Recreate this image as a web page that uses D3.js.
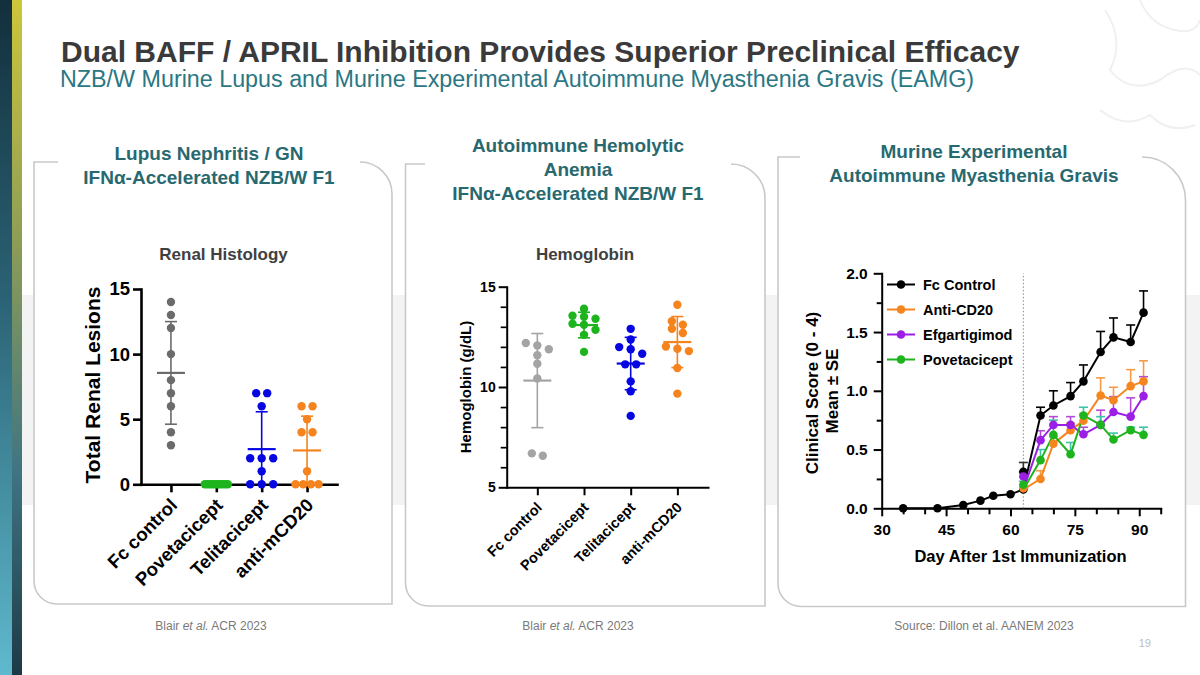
<!DOCTYPE html>
<html><head><meta charset="utf-8">
<script src="https://cdn.jsdelivr.net/npm/d3@7"></script>
<style>
html,body{margin:0;padding:0;background:#fff;}
svg{display:block;font-family:"Liberation Sans",Arial,sans-serif;}
</style></head><body>
<script>
// ---------- DATA ----------
const renalGroups = ["Fc control","Povetacicept","Telitacicept","anti-mCD20"];
const renalFc   = [14,13,12,10,8,7,6,4,3];
const renalPove = [0,0,0,0,0,0,0,0,0,0];
const renalTeli = [7,7,6,2,2,2,1,0,0,0];
const renalAnti = [6,6,5,4,4,1,0,0,0,0];
const renalTicks = [0,5,10,15];

const hgbGroups = ["Fc control","Povetacicept","Telitacicept","anti-mCD20"];
const hgbFc   = [12.19,12.07,11.88,11.58,11.16,10.42,6.69,6.57];
const hgbPove = [13.9,13.55,13.5,13.4,13.15,13.1,12.85,12.6,11.75];
const hgbTeli = [12.9,12.37,11.99,11.88,11.66,11.13,11.13,10.28,9.79,8.56];
const hgbAnti = [14.1,13.28,13.1,12.9,12.69,12.02,11.91,11.79,10.95,9.67];
const hgbTicks = [5,10,15];
const hgbMinor = [6,7,8,9,11,12,13,14];

const eamgSeries = ["Fc Control","Anti-CD20","Efgartigimod","Povetacicept"];
const daysFc = [35,43,49,53,56,60,63,67,70,74,77,81,84,88,91];
const scoreFc = [0,0,0.028,0.065,0.107,0.119,0.16,0.79,0.875,0.955,1.08,1.33,1.455,1.415,1.665];
const seFc    = [0,0,0,0,0,0,0,0.07,0.125,0.115,0.14,0.175,0.165,0.145,0.185];
const daysTx = [63,67,70,74,77,81,84,88,91];
const scoreAnti = [0.17,0.25,0.55,0.665,0.745,0.96,0.92,1.04,1.08];
const seAnti    = [0,0.07,0.06,0.06,0.06,0.15,0.11,0.14,0.175];
const scoreEfg  = [0.27,0.58,0.71,0.71,0.63,0.71,0.82,0.78,0.955];
const seEfg     = [0.04,0.08,0.07,0.07,0.06,0.125,0.13,0.16,0.165];
const scorePove = [0.2,0.41,0.625,0.46,0.79,0.71,0.585,0.665,0.625];
const sePove    = [0.03,0.09,0.125,0.1,0.07,0.07,0.055,0.025,0.065];
const fcGroupDay63 = [63], fcGroupScore63 = [0.31], fcGroupSe63 = [0.08];
const eamgXTicks = [30,45,60,75,90];
const eamgXMinor = [35,40,50,55,65,70,80,85,95];
const eamgYTicks = [0,0.5,1,1.5,2];
const eamgYMinor = [0.25,0.75,1.25,1.75];
const treatmentStartDay = 63;

// ---------- STYLE ----------
const FONT = '"Liberation Sans",Arial,sans-serif';
const renalColors = ["#6b6b6b","#1eb41e","#0606e2","#f5841f"];
const hgbColors   = ["#a4a4a4","#1eb41e","#0606e2","#f5841f"];
const eamgColors  = ["#000000","#f5861f","#9c1fe6","#1eb41e"];
const eamgErrColors = ["#000000","#f59a45","#b44ad8","#3ec4a4"];

const W = 1200, H = 675;
const svg = d3.select("body").append("svg").attr("width", W).attr("height", H)
  .attr("font-family", FONT);

// ---------- BACKGROUND ----------
const defs = svg.append("defs");
const gA = defs.append("linearGradient").attr("id","stripA").attr("x1",0).attr("y1",0).attr("x2",0).attr("y2",1);
[["0%","#132f3c"],["45%","#2b6476"],["100%","#5fb9cd"]].forEach(s=>gA.append("stop").attr("offset",s[0]).attr("stop-color",s[1]));
const gB = defs.append("linearGradient").attr("id","stripB").attr("x1",0).attr("y1",0).attr("x2",0).attr("y2",1);
[["0%","#cdc63a"],["35%","#8f9e55"],["70%","#3f7482"],["100%","#1c3a46"]].forEach(s=>gB.append("stop").attr("offset",s[0]).attr("stop-color",s[1]));

svg.append("rect").attr("x",22).attr("y",295).attr("width",W-22).attr("height",210).attr("fill","#f3f3f3");
svg.append("rect").attr("x",0).attr("y",0).attr("width",12).attr("height",H).attr("fill","url(#stripA)");
svg.append("rect").attr("x",12).attr("y",0).attr("width",10).attr("height",H).attr("fill","url(#stripB)");

// faint decoration top-right
const deco = svg.append("g").attr("fill","none").attr("stroke","#f0f0f0").attr("stroke-width",2);
deco.append("path").attr("d","M1105,10 Q1125,40 1110,70 Q1130,95 1160,80 Q1185,60 1200,75");
deco.append("path").attr("d","M1140,0 Q1150,25 1175,30 Q1195,35 1200,20");
deco.append("path").attr("d","M1100,110 Q1125,130 1150,115 Q1170,135 1195,125");

// ---------- TITLES ----------
svg.append("text").attr("x",61).attr("y",62).attr("font-size",30).attr("font-weight","bold")
  .attr("fill","#3a3a3a").text("Dual BAFF / APRIL Inhibition Provides Superior Preclinical Efficacy");
svg.append("text").attr("x",60).attr("y",87).attr("font-size",23.3).attr("fill","#2b7783")
  .text("NZB/W Murine Lupus and Murine Experimental Autoimmune Myasthenia Gravis (EAMG)");

// ---------- CARDS ----------
function cardPath(x0,y0,x1,y1,rTR,rBL){
  return `M${x0},${y0} H${x1-rTR} A${rTR},${rTR} 0 0 1 ${x1},${y0+rTR} V${y1} H${x0+rBL} A${rBL},${rBL} 0 0 1 ${x0},${y1-rBL} Z`;
}
const cards = [
  {x0:34,y0:162,x1:392,y1:604,rTR:32,rBL:23,g0:58,g1:360, cx:209, lines:["Lupus Nephritis / GN","IFNα-Accelerated NZB/W F1"], by:160},
  {x0:405.5,y0:164,x1:765,y1:606,rTR:34,rBL:23,g0:425,g1:731, cx:578, lines:["Autoimmune Hemolytic","Anemia","IFNα-Accelerated NZB/W F1"], by:152},
  {x0:778,y0:157,x1:1185.5,y1:606.5,rTR:43,rBL:23,g0:800,g1:1142, cx:974, lines:["Murine Experimental","Autoimmune Myasthenia Gravis"], by:158}
];
cards.forEach(c=>{
  svg.append("path").attr("d",cardPath(c.x0,c.y0,c.x1,c.y1,c.rTR,c.rBL))
    .attr("fill","#fff").attr("stroke","#c9c9c9").attr("stroke-width",1.6);
  svg.append("rect").attr("x",c.g0).attr("y",c.y0-4).attr("width",c.g1-c.g0).attr("height",8).attr("fill","#fff");
  c.lines.forEach((l,i)=>{
    svg.append("text").attr("x",c.cx).attr("y",c.by+i*24).attr("text-anchor","middle")
      .attr("font-size",19).attr("font-weight","bold").attr("fill","#28696f").text(l);
  });
});

// ---------- footers ----------
function footer(cx, parts){
  const t = svg.append("text").attr("x",cx).attr("y",630).attr("text-anchor","middle")
    .attr("font-size",12).attr("fill","#7a7a7a");
  parts.forEach(p=>t.append("tspan").attr("font-style",p[1]?"italic":null).text(p[0]));
}
footer(211,[["Blair ",0],["et al.",1],[" ACR 2023",0]]);
footer(578,[["Blair ",0],["et al.",1],[" ACR 2023",0]]);
footer(984,[["Source: Dillon et al. AANEM 2023",0]]);
svg.append("text").attr("x",1151).attr("y",647).attr("text-anchor","end").attr("font-size",11)
  .attr("fill","#bdbdbd").text("19");

// ---------- helpers ----------
function swarm(values, y, binH){
  const pts = values.map(v=>({v})).sort((a,b)=>b.v-a.v);
  const rows=[]; let cur=null;
  pts.forEach(p=>{
    const py=y(p.v);
    if(cur && py-cur.y0 < binH) cur.pts.push(p); else {cur={y0:py,pts:[p]}; rows.push(cur);}
  });
  rows.forEach(r=>{
    const n=r.pts.length; const sp = n===1?0:(n===2?11:23/(n-1));
    r.pts.forEach((p,k)=>p.dx=(k-(n-1)/2)*sp);
  });
  return pts;
}
function styleAxis(sel, w, fs){
  sel.attr("font-family",FONT);
  sel.select(".domain").attr("stroke","#000").attr("stroke-width",w).attr("stroke-linecap","square");
  sel.selectAll(".tick line").attr("stroke","#000").attr("stroke-width",w);
  sel.selectAll(".tick text").attr("font-size",fs).attr("font-weight","bold").attr("fill","#000");
}

function dotPlot(o){
  const g = svg.append("g");
  const x = d3.scalePoint().domain(o.groups).range(o.xRange).padding(o.pad);
  const y = d3.scaleLinear().domain(o.domain).range(o.yRange);
  if(o.minor){
    const m = g.append("g").attr("transform",`translate(${o.xRange[0]},0)`)
      .call(d3.axisLeft(y).tickValues(o.minor).tickSize(o.minorLen).tickFormat(""));
    m.select(".domain").remove();
    m.selectAll("line").attr("stroke","#000").attr("stroke-width",o.axisW*0.85);
  }
  const ya = g.append("g").attr("transform",`translate(${o.xRange[0]},0)`)
    .call(d3.axisLeft(y).tickValues(o.ticks).tickSize(o.tickLen).tickSizeOuter(0).tickPadding(o.tickPad));
  styleAxis(ya,o.axisW,o.tickFs);
  const xa = g.append("g").attr("transform",`translate(0,${o.yRange[0]})`)
    .call(d3.axisBottom(x).tickSize(o.tickLen).tickSizeOuter(0));
  styleAxis(xa,o.axisW,o.xFs);
  xa.selectAll(".tick text").attr("x",0).attr("y",0).attr("dy",0).attr("text-anchor","end")
    .attr("transform",`translate(${o.lblDx},${o.lblDy}) rotate(-45)`);
  o.series.forEach((vals,i)=>{
    const cx = x(o.groups[i]);
    swarm(vals,y,o.binH).forEach(p=>{
      g.append("circle").attr("cx",cx+p.dx).attr("cy",y(p.v)).attr("r",o.r).attr("fill",o.colors[i]);
    });
  });
  o.series.forEach((vals,i)=>{
    const cx = x(o.groups[i]); const m = d3.mean(vals); const sd = d3.deviation(vals)||0;
    const lo = Math.max(o.domain[0], m-sd), hi = m+sd;
    const c = o.colors[i];
    g.append("line").attr("x1",cx).attr("x2",cx).attr("y1",y(lo)).attr("y2",y(hi)).attr("stroke",c).attr("stroke-width",1.6);
    [lo,hi].forEach(v=>{ if(v>o.domain[0]) g.append("line").attr("x1",cx-6).attr("x2",cx+6).attr("y1",y(v)).attr("y2",y(v)).attr("stroke",c).attr("stroke-width",1.6); });
    g.append("line").attr("x1",cx-14).attr("x2",cx+14).attr("y1",y(m)).attr("y2",y(m)).attr("stroke",c).attr("stroke-width",2.2);
  });
  g.append("text").attr("x",o.titleX).attr("y",260).attr("text-anchor","middle").attr("font-size",17)
    .attr("font-weight","bold").attr("fill","#404040").text(o.title);
  g.append("text").attr("transform",`translate(${o.ylx},${o.yly}) rotate(-90)`).attr("text-anchor","middle")
    .attr("font-size",o.ylFs).attr("font-weight","bold").attr("fill","#000").text(o.ylabel);
}

dotPlot({groups:renalGroups, series:[renalFc,renalPove,renalTeli,renalAnti], colors:renalColors,
  xRange:[141,337], yRange:[484.3,289], domain:[0,15], pad:0.66, ticks:renalTicks,
  tickLen:8, tickPad:3, axisW:2.6, tickFs:18.5, xFs:18.5, lblDx:7, lblDy:22, r:4.2, binH:7,
  title:"Renal Histology", titleX:223.5, ylabel:"Total Renal Lesions", ylx:99.5, yly:385, ylFs:21});

dotPlot({groups:hgbGroups, series:[hgbFc,hgbPove,hgbTeli,hgbAnti], colors:hgbColors,
  xRange:[506.7,708], yRange:[487.3,286.7], domain:[5,15], pad:0.656, ticks:hgbTicks, minor:hgbMinor, minorLen:6,
  tickLen:8, tickPad:3, axisW:2, tickFs:14, xFs:14.5, lblDx:5, lblDy:21, r:4.2, binH:7,
  title:"Hemoglobin", titleX:585, ylabel:"Hemoglobin (g/dL)", ylx:471, yly:387, ylFs:15});

// ---------- EAMG line chart ----------
(function(){
  const g = svg.append("g");
  const x = d3.scaleLinear().domain([30,95]).range([881.7,1160.7]);
  const y = d3.scaleLinear().domain([0,2]).range([508.3,273.3]);
  const mx = g.append("g").attr("transform",`translate(0,${y(0)})`).call(d3.axisBottom(x).tickValues(eamgXMinor).tickSize(6).tickFormat(""));
  mx.select(".domain").remove(); mx.selectAll("line").attr("stroke","#000").attr("stroke-width",2);
  const my = g.append("g").attr("transform",`translate(${x(30)},0)`).call(d3.axisLeft(y).tickValues(eamgYMinor).tickSize(5).tickFormat(""));
  my.select(".domain").remove(); my.selectAll("line").attr("stroke","#000").attr("stroke-width",2);
  const xa = g.append("g").attr("transform",`translate(0,${y(0)})`)
    .call(d3.axisBottom(x).tickValues(eamgXTicks).tickSize(8).tickSizeOuter(0).tickPadding(8));
  styleAxis(xa,2,15.5);
  const ya = g.append("g").attr("transform",`translate(${x(30)},0)`)
    .call(d3.axisLeft(y).tickValues(eamgYTicks).tickSize(8).tickSizeOuter(0).tickPadding(6).tickFormat(d3.format(".1f")));
  styleAxis(ya,2,15.5);
  g.append("line").attr("x1",x(treatmentStartDay)).attr("x2",x(treatmentStartDay)).attr("y1",y(0)).attr("y2",y(2))
    .attr("stroke","#8a8a8a").attr("stroke-width",1).attr("stroke-dasharray","1.5,2");
  const series = [
    {days:daysFc, v:scoreFc, se:seFc},
    {days:daysTx, v:scoreAnti, se:seAnti},
    {days:daysTx, v:scoreEfg, se:seEfg},
    {days:daysTx, v:scorePove, se:sePove}
  ];
  const line = d3.line().x(d=>x(d[0])).y(d=>y(d[1]));
  function errBars(days, vals, ses, col){
    days.forEach((d,i)=>{
      if(!ses[i]) return;
      const cx=x(d), top=y(vals[i]+ses[i]);
      g.append("line").attr("x1",cx).attr("x2",cx).attr("y1",y(vals[i])).attr("y2",top).attr("stroke",col).attr("stroke-width",1.6);
      g.append("line").attr("x1",cx-4.5).attr("x2",cx+4.5).attr("y1",top).attr("y2",top).attr("stroke",col).attr("stroke-width",1.6);
    });
  }
  function dots(days, vals, col){
    days.forEach((d,i)=>g.append("circle").attr("cx",x(d)).attr("cy",y(vals[i])).attr("r",4.3).attr("fill",col));
  }
  series.forEach((s,i)=>errBars(s.days,s.v,s.se,eamgErrColors[i]));
  errBars(fcGroupDay63,fcGroupScore63,fcGroupSe63,"#333");
  dots(fcGroupDay63,fcGroupScore63,"#000");
  series.forEach((s,i)=>{
    let pts = s.days.map((d,k)=>[d,s.v[k]]);
    if(i>0){
      const k = daysFc.indexOf(treatmentStartDay);
      pts = [[daysFc[k],scoreFc[k]]].concat(pts.slice(1));
    }
    g.append("path").attr("d",line(pts)).attr("fill","none").attr("stroke",eamgColors[i]).attr("stroke-width",2);
  });
  series.forEach((s,i)=>dots(s.days,s.v,eamgColors[i]));
  eamgSeries.forEach((n,i)=>{
    const ly = 284.5 + i*25;
    g.append("line").attr("x1",887).attr("x2",915).attr("y1",ly).attr("y2",ly).attr("stroke",eamgColors[i]).attr("stroke-width",2);
    g.append("circle").attr("cx",901).attr("cy",ly).attr("r",4.3).attr("fill",eamgColors[i]);
    g.append("text").attr("x",923).attr("y",ly).attr("dy","0.35em").attr("font-size",14.5).attr("font-weight","bold").attr("fill","#000").text(n);
  });
  g.append("text").attr("x",1020.5).attr("y",562).attr("text-anchor","middle").attr("font-size",16.5)
    .attr("font-weight","bold").attr("fill","#000").text("Day After 1st Immunization");
  g.append("text").attr("transform","translate(818,393) rotate(-90)").attr("text-anchor","middle")
    .attr("font-size",17).attr("font-weight","bold").attr("fill","#000").text("Clinical Score (0 - 4)");
  g.append("text").attr("transform","translate(838,391) rotate(-90)").attr("text-anchor","middle")
    .attr("font-size",17).attr("font-weight","bold").attr("fill","#000").text("Mean ± SE");
})();
</script></body></html>
